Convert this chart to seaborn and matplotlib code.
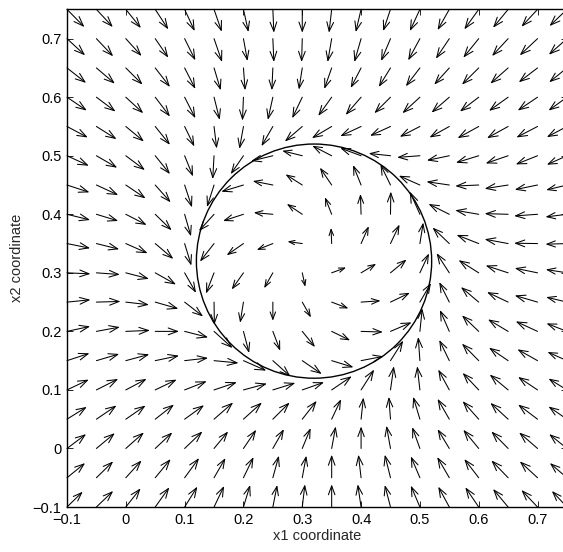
import numpy as np
import pandas as pd
import matplotlib
matplotlib.use("Agg")
import matplotlib.pyplot as plt
from matplotlib.patches import Circle
import seaborn as sns

# grid of arrow tails (x1, x2)
x_pos = [-0.1, -0.05, 0.0, 0.05, 0.1, 0.15, 0.2, 0.25, 0.3, 0.35,
         0.4, 0.45, 0.5, 0.55, 0.6, 0.65, 0.7, 0.75]
y_pos = [-0.1, -0.05, 0.0, 0.05, 0.1, 0.15, 0.2, 0.25, 0.3, 0.35,
         0.4, 0.45, 0.5, 0.55, 0.6, 0.65, 0.7, 0.75]

# arrow components, one row per x2 value (bottom to top)
u_rows = [
    [47, 50, 44, 42, 38, 30, 20, 13, 8, 0, -10, -17, -27, -33, -40, -45, -48, -45],
    [54, 50, 47, 46, 43, 34, 30, 18, 12, 0, -8, -17, -27, -36, -43, -50, -53, -51],
    [57, 55, 54, 51, 53, 42, 38, 33, 25, 12, 0, -12, -23, -35, -46, -50, -55, -53],
    [59, 60, 59, 56, 58, 57, 55, 50, 43, 28, 7, -5, -20, -35, -48, -53, -58, -55],
    [65, 65, 62, 64, 66, 68, 70, 67, 65, 60, 39, 10, -8, -33, -48, -55, -58, -55],
    [67, 68, 70, 71, 70, 73, 68, 52, 58, 65, 67, 38, -5, -30, -50, -57, -60, -58],
    [69, 70, 72, 71, 70, 55, 17, 22, 38, 55, 65, 63, 7, -28, -50, -60, -65, -61],
    [70, 72, 69, 69, 55, 1, -10, 0, 26, 50, 58, 58, 33, -30, -53, -63, -68, -62],
    [70, 70, 69, 62, 34, -24, -35, -26, 9, 43, 45, 48, 27, -38, -60, -67, -68, -63],
    [69, 68, 65, 54, 20, -42, -50, -48, -44, -2, 23, 27, 10, -50, -66, -70, -70, -64],
    [69, 65, 62, 49, 19, -45, -61, -57, -46, -20, -2, 1, -30, -62, -70, -70, -70, -64],
    [67, 65, 59, 46, 22, -21, -66, -60, -50, -35, -24, -30, -63, -68, -70, -70, -68, -62],
    [65, 62, 57, 44, 25, -4, -38, -65, -60, -58, -62, -65, -68, -67, -68, -67, -65, -60],
    [62, 60, 54, 44, 29, 8, -12, -34, -52, -59, -62, -61, -60, -59, -63, -63, -63, -60],
    [59, 57, 52, 44, 32, 17, -3, -15, -30, -40, -46, -48, -52, -53, -56, -57, -59, -55],
    [57, 55, 50, 44, 32, 20, 5, -3, -10, -22, -31, -35, -42, -45, -50, -53, -56, -53],
    [54, 50, 47, 39, 32, 24, 12, 3, -2, -12, -20, -28, -35, -40, -46, -48, -53, -54],
    [52, 49, 45, 39, 30, 23, 15, 3, 0, -8, -16, -22, -30, -35, -43, -45, -48, -52],
]
v_rows = [
    [46, 48, 56, 59, 61, 63, 66, 66, 68, 68, 68, 66, 64, 61, 59, 54, 51, 48],
    [44, 49, 52, 56, 59, 59, 62, 66, 66, 69, 69, 69, 64, 62, 56, 52, 49, 44],
    [43, 46, 48, 48, 51, 51, 56, 58, 61, 66, 66, 68, 64, 58, 56, 51, 48, 43],
    [37, 41, 41, 44, 42, 50, 50, 50, 55, 60, 65, 67, 67, 61, 54, 49, 44, 38],
    [31, 33, 33, 31, 26, 23, 19, 21, 23, 41, 61, 71, 71, 61, 51, 46, 39, 34],
    [22, 20, 19, 15, 8, -7, -30, -47, -40, -20, 13, 60, 71, 62, 51, 39, 34, 26],
    [15, 13, 3, 0, -18, -50, -65, -58, -47, -27, -2, 27, 69, 64, 48, 36, 30, 24],
    [7, 2, -8, -20, -43, -68, -62, -56, -46, -19, 4, 28, 57, 60, 45, 30, 20, 15],
    [-3, -5, -18, -35, -60, -62, -50, -46, -42, 16, 27, 40, 58, 59, 38, 22, 14, 10],
    [-14, -17, -29, -46, -66, -54, -35, -19, 6, 47, 52, 57, 63, 48, 26, 13, 1, -2],
    [-17, -20, -32, -48, -66, -50, -20, 5, 31, 51, 61, 68, 68, 31, 12, 2, -5, -8],
    [-22, -30, -40, -52, -67, -66, -20, 12, 32, 52, 60, 62, 28, 10, -3, -11, -14, -15],
    [-30, -36, -43, -55, -62, -70, -55, -16, 15, 30, 23, 7, -5, -14, -21, -23, -26, -27],
    [-33, -38, -45, -55, -60, -66, -67, -59, -45, -35, -29, -28, -31, -33, -35, -35, -33, -32],
    [-40, -43, -48, -58, -63, -68, -70, -68, -63, -56, -53, -48, -48, -46, -43, -41, -40, -40],
    [-45, -47, -50, -57, -63, -67, -67, -67, -65, -63, -60, -57, -55, -50, -50, -47, -43, -43],
    [-50, -53, -52, -57, -65, -70, -67, -70, -70, -70, -70, -67, -65, -60, -57, -52, -50, -48],
    [-53, -53, -56, -60, -65, -67, -68, -70, -70, -70, -68, -65, -65, -62, -60, -55, -52, -50],
]

# limit cycle
circle_center = (0.32, 0.32)
circle_radius = 0.2

x_ticks = [-0.1, 0, 0.1, 0.2, 0.3, 0.4, 0.5, 0.6, 0.7]
y_ticks = [-0.1, 0, 0.1, 0.2, 0.3, 0.4, 0.5, 0.6, 0.7]
x_ticklabels = ["\u22120.1", "0", "0.1", "0.2", "0.3", "0.4", "0.5", "0.6", "0.7"]
y_ticklabels = ["\u22120.1", "0", "0.1", "0.2", "0.3", "0.4", "0.5", "0.6", "0.7"]

# tidy table of arrows
rows = []
for j, yv in enumerate(y_pos):
    for i, xv in enumerate(x_pos):
        rows.append({"x1": xv, "x2": yv, "u": u_rows[j][i], "v": v_rows[j][i]})
df = pd.DataFrame(rows)

sns.set_theme(style="ticks")
plt.rcParams["font.family"] = ["Liberation Sans", "DejaVu Sans"]

fig = plt.figure(figsize=(5.63, 5.52), dpi=100)
ax = fig.add_axes([0.119, 0.0815, 0.888, 0.9015])

# picture units -> data units
scale = 1755.0
for _, r in df.iterrows():
    du = r["u"] / scale
    dv = r["v"] / scale
    n = np.hypot(r["u"], r["v"])
    ax.annotate(
        "",
        xy=(r["x1"] + du, r["x2"] + dv),
        xytext=(r["x1"], r["x2"]),
        xycoords="data",
        textcoords="data",
        annotation_clip=False,
        arrowprops=dict(
            arrowstyle="->,head_length=0.6,head_width=0.22",
            color="black",
            lw=0.75,
            shrinkA=0,
            shrinkB=0,
            mutation_scale=11 * n / 70.0,
        ),
    )

ax.add_patch(Circle(circle_center, circle_radius, fill=False, color="black", lw=1.0))

ax.set_xlim(-0.1, 0.75)
ax.set_ylim(-0.1, 0.75)
ax.set_xticks(x_ticks)
ax.set_yticks(y_ticks)
ax.set_xticklabels(x_ticklabels)
ax.set_yticklabels(y_ticklabels)
ax.tick_params(direction="in", top=True, right=True, length=4, width=0.6,
               labelsize=10.5, colors="black", pad=4)
for s in ax.spines.values():
    s.set_linewidth(1.0)
    s.set_color("black")

ax.set_xlabel("x1 coordinate", fontsize=10.5, labelpad=2)
ax.set_ylabel("x2 coordinate", fontsize=10.5, labelpad=6)

plt.savefig("out.png", dpi=100)
